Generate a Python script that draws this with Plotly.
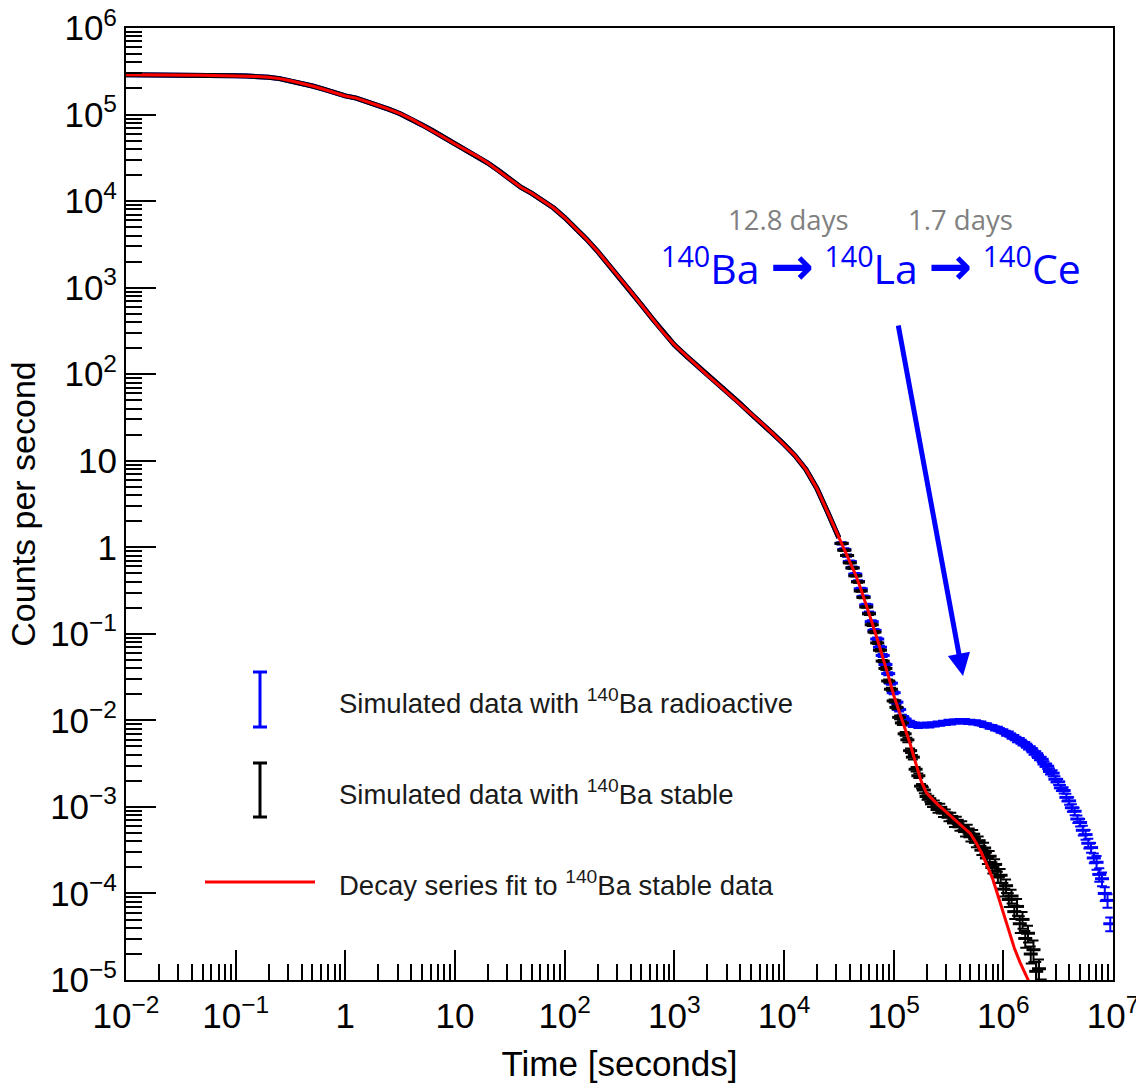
import numpy as np
import plotly.graph_objects as go

# ---- data -------------------------------------------------------------
# early bins: log10(time/s) from -2.0 to 4.5 in steps of 0.1
log_t_early = np.round(np.arange(-2.0, 4.5001, 0.1), 3)
# log10(counts per second), shared by both simulations and the fit here
log_rate_early = [
    5.460, 5.460, 5.459, 5.458, 5.457, 5.456, 5.455, 5.453, 5.451, 5.449,
    5.447, 5.445, 5.440, 5.430, 5.415, 5.390, 5.362, 5.330, 5.293, 5.252,
    5.215, 5.190, 5.150, 5.105, 5.060, 5.010, 4.950, 4.880, 4.810, 4.735,
    4.660, 4.590, 4.520, 4.440, 4.350, 4.250, 4.160, 4.090, 4.010, 3.920,
    3.810, 3.690, 3.560, 3.420, 3.270, 3.120, 2.960, 2.800, 2.640, 2.480,
    2.340, 2.220, 2.110, 1.990, 1.880, 1.770, 1.660, 1.540, 1.430, 1.310,
    1.190, 1.060, 0.900, 0.680, 0.400, 0.110,
]

# late bins: log10(time/s) in steps of 0.025
log_t_stable_late = np.round(np.arange(4.525, 6.3501, 0.025), 3)
log_rate_stable_late = [
    0.045, -0.035, -0.095, -0.180, -0.240, -0.330, -0.400, -0.505, -0.580, -0.690,   # 4.525-4.75
    -0.770, -0.895, -0.980, -1.105, -1.190, -1.315, -1.400, -1.545, -1.640, -1.775,  # 4.775-5.00
    -1.850, -1.965, -2.030, -2.155, -2.225, -2.350, -2.425, -2.565, -2.640, -2.760,  # 5.025-5.25
    -2.805, -2.880, -2.905, -2.965, -2.960, -3.030, -3.005, -3.070, -3.070, -3.120,  # 5.275-5.50
    -3.110, -3.185, -3.155, -3.230, -3.215, -3.285, -3.255, -3.345, -3.315, -3.410,  # 5.525-5.75
    -3.390, -3.500, -3.475, -3.590, -3.570, -3.700, -3.665, -3.810, -3.790, -3.950,  # 5.775-6.00
    -3.910, -4.070, -4.030, -4.210, -4.150, -4.350, -4.300, -4.520, -4.460, -4.700,  # 6.025-6.25
    -4.650, -4.900, -4.870, -5.100,                                                  # 6.275-6.35
]
rel_err_stable_late = (
    [0.02] * 10 + [0.03] * 6 + [0.04] * 4 + [0.05] * 4 + [0.06] * 6
    + [0.08] * 6 + [0.10] * 8 + [0.12] * 8 + [0.15] * 6 + [0.18] * 6
    + [0.22] * 6 + [0.28] * 4
)

log_t_radio_late = np.round(np.arange(4.525, 6.9751, 0.025), 3)
log_rate_radio_late = [
    0.045, -0.025, -0.095, -0.165, -0.235, -0.310, -0.395, -0.480, -0.570, -0.665,   # 4.525-4.75
    -0.760, -0.860, -0.960, -1.060, -1.155, -1.250, -1.355, -1.460, -1.570, -1.680,  # 4.775-5.00
    -1.790, -1.875, -1.955, -1.985, -2.025, -2.025, -2.055, -2.045, -2.065, -2.055,  # 5.025-5.25
    -2.060, -2.045, -2.060, -2.045, -2.050, -2.035, -2.040, -2.025, -2.030, -2.015,  # 5.275-5.50
    -2.025, -2.010, -2.015, -2.005, -2.015, -2.005, -2.020, -2.015, -2.025, -2.020,  # 5.525-5.75
    -2.035, -2.035, -2.055, -2.055, -2.075, -2.075, -2.095, -2.095, -2.120, -2.125,  # 5.775-6.00
    -2.150, -2.155, -2.185, -2.195, -2.225, -2.230, -2.265, -2.275, -2.310, -2.325,  # 6.025-6.25
    -2.365, -2.385, -2.430, -2.450, -2.505, -2.530, -2.590, -2.610, -2.680, -2.710,  # 6.275-6.50
    -2.780, -2.810, -2.890, -2.930, -3.010, -3.050, -3.140, -3.180, -3.270, -3.320,  # 6.525-6.75
    -3.420, -3.470, -3.590, -3.640, -3.780, -3.830, -4.000, -4.080, -4.350,          # 6.775-6.975
]
rel_err_radio_late = (
    [0.03] * 10 + [0.04] * 10 + [0.05] * 40 + [0.06] * 10 + [0.07] * 6
    + [0.08] * 6 + [0.10] * 6 + [0.13] * 5 + [0.18] * 6
)

log_t_fit_late = np.round(np.arange(4.55, 6.3001, 0.05), 3)
log_rate_fit_late = [
    -0.020, -0.160, -0.310, -0.480, -0.660, -0.860, -1.060, -1.260, -1.480,
    -1.710, -1.900, -2.080, -2.270, -2.490, -2.700, -2.840, -2.910, -2.970,
    -3.025, -3.080, -3.135, -3.190, -3.245, -3.310, -3.410, -3.530, -3.670,
    -3.820, -4.020, -4.230, -4.430, -4.630, -4.790, -4.930, -5.060, -5.200,
]

x_tick_vals = [1e-2, 1e-1, 1, 10, 1e2, 1e3, 1e4, 1e5, 1e6, 1e7]
x_tick_text = ["10<sup>\u22122</sup>", "10<sup>\u22121</sup>", "1", "10",
               "10<sup>2</sup>", "10<sup>3</sup>", "10<sup>4</sup>",
               "10<sup>5</sup>", "10<sup>6</sup>", "10<sup>7</sup>"]
y_tick_vals = [1e-5, 1e-4, 1e-3, 1e-2, 1e-1, 1, 10, 1e2, 1e3, 1e4, 1e5, 1e6]
y_tick_text = ["10<sup>\u22125</sup>", "10<sup>\u22124</sup>", "10<sup>\u22123</sup>",
               "10<sup>\u22122</sup>", "10<sup>\u22121</sup>", "1", "10",
               "10<sup>2</sup>", "10<sup>3</sup>", "10<sup>4</sup>",
               "10<sup>5</sup>", "10<sup>6</sup>"]

BLUE = "#0000ff"
RED = "#ff0000"
BLACK = "#000000"
FONT = "Liberation Sans"

t_early = 10 ** log_t_early
y_early = 10 ** np.asarray(log_rate_early)

fig = go.Figure()

# dense early bins: drawn as a thick band
for col in (BLUE, BLACK):
    fig.add_trace(go.Scatter(x=t_early, y=y_early, mode="lines", showlegend=False,
                             line=dict(color=col, width=5)))

# late bins: individual points with statistical error bars
for lt, lr, rel, col in [(log_t_radio_late, log_rate_radio_late, rel_err_radio_late, BLUE),
                         (log_t_stable_late, log_rate_stable_late, rel_err_stable_late, BLACK)]:
    y = 10 ** np.asarray(lr)
    fig.add_trace(go.Scatter(
        x=10 ** np.asarray(lt, float), y=y, mode="markers", showlegend=False,
        marker=dict(symbol="line-ew", size=10, color=col, line=dict(color=col, width=3)),
        error_y=dict(type="data", array=y * np.asarray(rel), color=col, thickness=2, width=5),
    ))

# decay-series fit
t_fit = 10 ** np.concatenate([log_t_early, log_t_fit_late])
y_fit = 10 ** np.concatenate([log_rate_early, log_rate_fit_late])
fig.add_trace(go.Scatter(x=t_fit, y=y_fit, mode="lines", showlegend=False,
                         line=dict(color=RED, width=3)))

# ---- layout -----------------------------------------------------------
W, H = 1136, 1083
L, R, T, B = 126, 1113, 28, 980


def px(xp, yp):
    return (xp - L) / (R - L), (B - yp) / (B - T)


axis_common = dict(
    type="log", showgrid=False, zeroline=False, automargin=False,
    showline=True, linecolor="black", linewidth=2, mirror=True,
    ticks="inside", ticklen=30, tickwidth=1.5, tickcolor="black",
    tickfont=dict(family=FONT, size=35, color="black"),
    minor=dict(ticks="inside", ticklen=16, tickwidth=1.5, tickcolor="black",
               dtick="D1", showgrid=False),
    tickmode="array", ticklabeloverflow="allow",
)

fig.update_layout(
    width=W, height=H,
    margin=dict(l=L, r=W - R, t=T, b=H - B),
    paper_bgcolor="white", plot_bgcolor="white",
    font=dict(family=FONT, color="black"),
    xaxis=dict(axis_common, range=[-2, 7], tickvals=x_tick_vals, ticktext=x_tick_text,
               ticklabelstandoff=4,
               title=dict(text="Time [seconds]", font=dict(family=FONT, size=35), standoff=18)),
    yaxis=dict(axis_common, range=[-5, 6], tickvals=y_tick_vals, ticktext=y_tick_text,
               title=dict(text="Counts per second", font=dict(family=FONT, size=34), standoff=4)),
)

shapes = []


def seg(x0, y0, x1, y1, col, w=3):
    a = px(x0, y0)
    b = px(x1, y1)
    shapes.append(dict(type="line", xref="paper", yref="paper",
                       x0=a[0], y0=a[1], x1=b[0], y1=b[1],
                       line=dict(color=col, width=w)))


# legend glyphs
for top, bot, col in [(672, 727, BLUE), (763, 817, "black")]:
    seg(260, top, 260, bot, col)
    seg(253, top, 267, top, col)
    seg(253, bot, 267, bot, col)
seg(205, 882, 315, 882, RED)
fig.update_layout(shapes=shapes)

annotations = []
for text, yp in [("Simulated data with <sup>140</sup>Ba radioactive", 702),
                 ("Simulated data with <sup>140</sup>Ba stable", 792),
                 ("Decay series fit to <sup>140</sup>Ba stable data", 883)]:
    xx, yy = px(337, yp)
    annotations.append(dict(x=xx, y=yy, xref="paper", yref="paper", text=text,
                            showarrow=False, xanchor="left", yanchor="middle",
                            font=dict(family=FONT, size=27.5, color="#1a1a1a")))

for text, xp in [("12.8 days", 788), ("1.7 days", 960)]:
    xx, yy = px(xp, 220)
    annotations.append(dict(x=xx, y=yy, xref="paper", yref="paper", text=text,
                            showarrow=False, xanchor="center", yanchor="middle",
                            font=dict(family="Open Sans", size=27.5, color="#808080")))

ARROW = "<span style='font-family:DejaVu Sans;font-weight:bold;font-size:52px'>\u2192</span>"
xx, yy = px(659, 266)
annotations.append(dict(
    x=xx, y=yy, xref="paper", yref="paper",
    text=f"<sup>140</sup>Ba {ARROW} <sup>140</sup>La {ARROW} <sup>140</sup>Ce",
    showarrow=False, xanchor="left", yanchor="middle",
    font=dict(family="Open Sans", size=41, color=BLUE)))

xx, yy = px(963, 676)
annotations.append(dict(
    x=xx, y=yy, xref="paper", yref="paper", text="",
    showarrow=True, ax=-65, ay=-352, arrowcolor=BLUE, arrowwidth=5,
    arrowhead=2, arrowsize=0.9))

fig.update_layout(annotations=annotations)

fig.write_html("out.html")
